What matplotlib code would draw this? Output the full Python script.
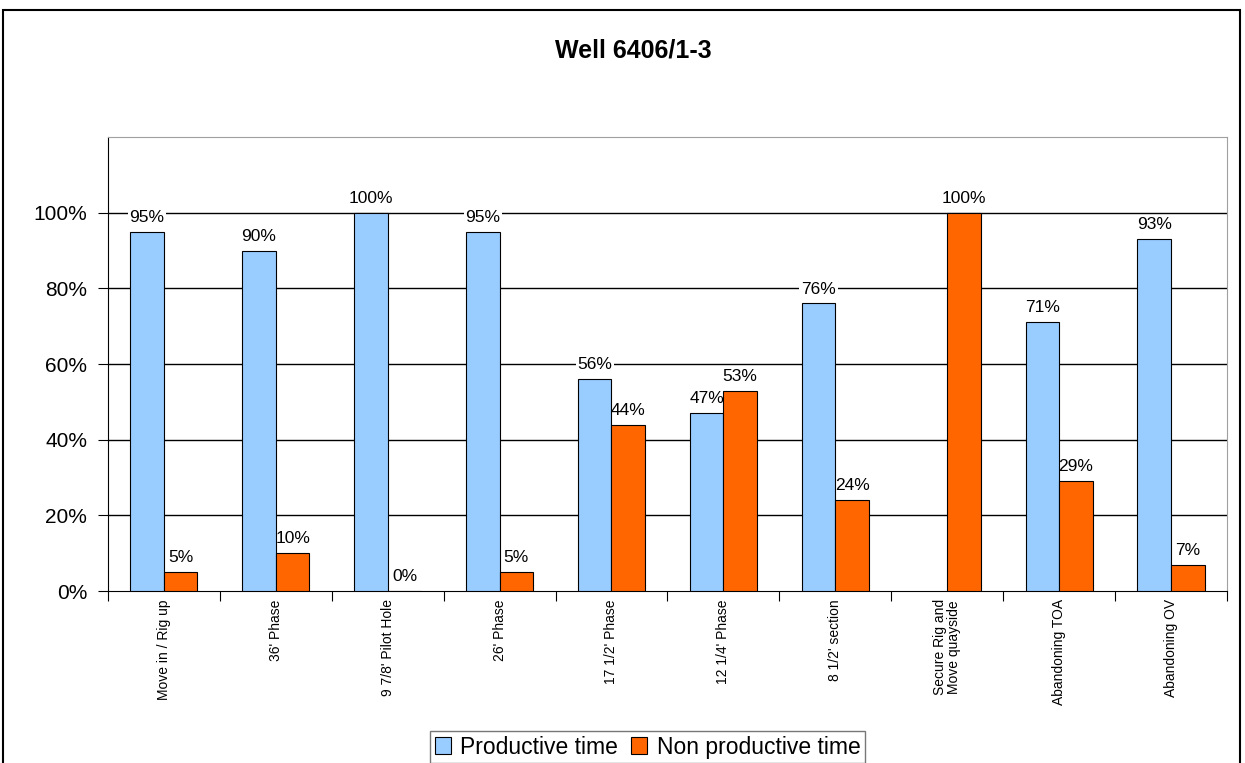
import matplotlib.pyplot as plt
import numpy as np
from matplotlib.patches import Rectangle

plt.rcParams['font.family'] = ['Liberation Sans', 'DejaVu Sans']

# phases of the well and share of time per phase (%)
phases = ["Move in / Rig up", "36' Phase", "9 7/8' Pilot Hole", "26' Phase",
          "17 1/2' Phase", "12 1/4' Phase", "8 1/2' section",
          "Secure Rig and\nMove quayside", "Abandoning TOA", "Abandoning OV"]
productive = [95, 90, 100, 95, 56, 47, 76, np.nan, 71, 93]
non_productive = [5, 10, 0, 5, 44, 53, 24, 100, 29, 7]

blue = '#99CCFF'
orange = '#FF6600'

fig = plt.figure(figsize=(12.45, 7.63), dpi=100)
ax = fig.add_axes([0.0867, 0.2254, 0.8988, 0.595])

x = np.arange(len(phases)) + 0.5
w = 0.3
b1 = ax.bar(x - w / 2, productive, w, color=blue, edgecolor='black', linewidth=0.8,
            label='Productive time', zorder=3)
b2 = ax.bar(x + w / 2, non_productive, w, color=orange, edgecolor='black', linewidth=0.8,
            label='Non productive time', zorder=3)

for bars, vals in ((b1, productive), (b2, non_productive)):
    for r, v in zip(bars, vals):
        if np.isnan(v):
            continue
        ax.annotate(f'{v:.0f}%', (r.get_x() + r.get_width() / 2, v),
                    xytext=(0, 5), textcoords='offset points',
                    ha='center', va='bottom', fontsize=12.5, zorder=2.5,
                    bbox=dict(boxstyle='square,pad=0.1', fc='white', ec='none'))

ax.set_xlim(0, len(phases))
ax.set_ylim(0, 120)
ax.set_yticks([0, 20, 40, 60, 80, 100])
ax.set_yticklabels([f'{t}%' for t in [0, 20, 40, 60, 80, 100]], fontsize=15)
for t in [20, 40, 60, 80, 100]:
    ax.axhline(t, color='black', linewidth=1, zorder=1)

# category boundaries as ticks, names centred between them
ax.set_xticks(np.arange(len(phases) + 1))
ax.set_xticklabels([])
ax.set_xticks(x, minor=True)
ax.set_xticklabels(phases, minor=True, rotation=90, fontsize=10, va='top', ha='center',
                   linespacing=1.0)
ax.tick_params(axis='x', which='minor', length=0, pad=6)
ax.tick_params(axis='x', which='major', length=7, direction='out', color='black')
ax.tick_params(axis='y', length=7, direction='out', pad=8)

ax.spines['top'].set_color('#a0a0a0')
ax.spines['right'].set_color('#a0a0a0')
ax.spines['left'].set_color('black')
ax.spines['bottom'].set_color('black')

fig.text(0.509, 0.934, 'Well 6406/1-3', ha='center', va='center',
         fontsize=18, fontweight='bold')

leg = fig.legend(handles=[b1, b2], loc='upper center', bbox_to_anchor=(0.52, 0.042),
                 ncol=2, fontsize=16.5, frameon=True, fancybox=False,
                 handlelength=0.7, handleheight=0.7, handletextpad=0.4,
                 columnspacing=0.6, borderpad=0.2, borderaxespad=0)
leg.get_frame().set_edgecolor('#555555')
leg.get_frame().set_linewidth(1)

# outer chart border
fig.patches.append(Rectangle((3 / 1245, -0.05), 1237 / 1245, 1.05 - 10 / 763,
                             transform=fig.transFigure, fill=False,
                             edgecolor='black', linewidth=1.5))

fig.savefig('out.png', dpi=100)
